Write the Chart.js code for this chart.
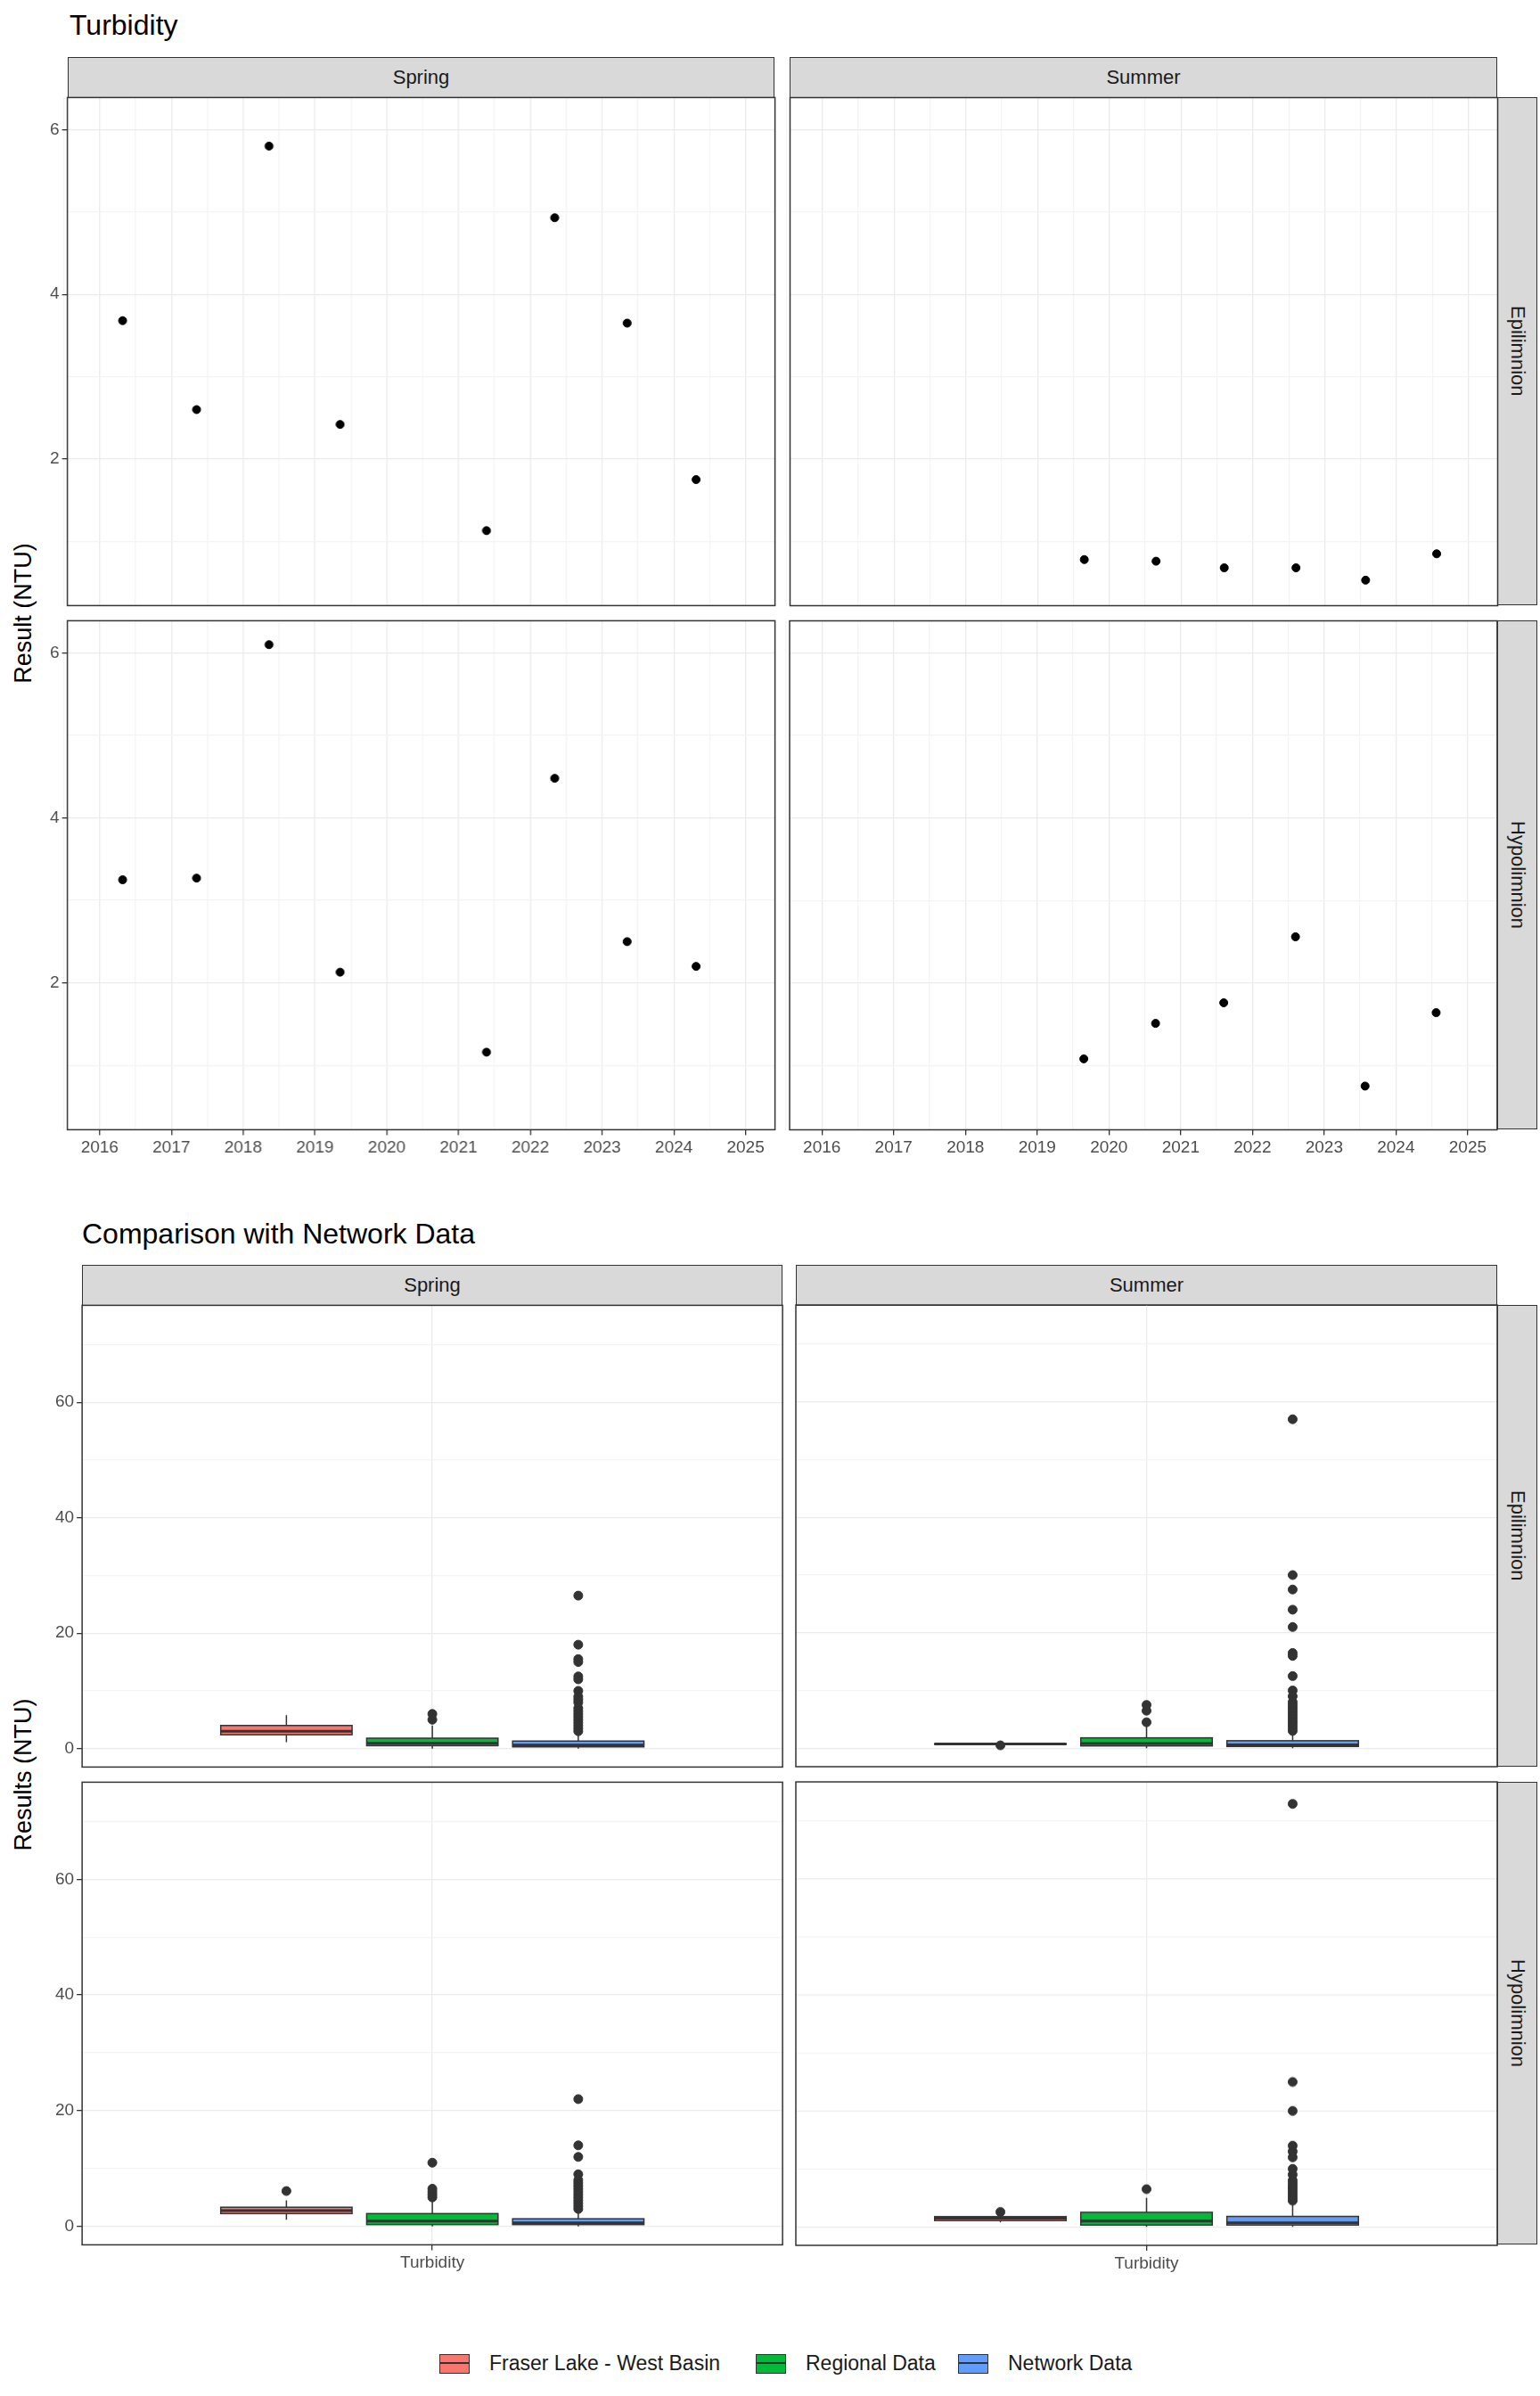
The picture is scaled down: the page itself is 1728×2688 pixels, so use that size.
<!DOCTYPE html>
<html><head><meta charset="utf-8">
<script src="https://cdn.jsdelivr.net/npm/chart.js@4.4.1/dist/chart.umd.min.js"></script>
<style>
body{margin:0;background:#fff;font-family:"Liberation Sans",Arial,sans-serif;}
#page{position:relative;width:1728px;height:2688px;}
.abs{position:absolute;}
.strip{position:absolute;background:#d9d9d9;border:1.5px solid #333;box-sizing:border-box;color:#1a1a1a;font-size:22px;display:flex;align-items:center;justify-content:center;}
.title{position:absolute;font-size:32px;color:#000;}
.ytitle{position:absolute;font-size:27px;color:#000;transform:translate(-50%,-50%) rotate(-90deg);white-space:nowrap;}
.leg{position:absolute;top:2638px;font-size:23px;color:#1a1a1a;display:flex;align-items:center;}
.key{width:34px;height:22px;border:1.5px solid #333;margin-right:22px;position:relative;box-sizing:border-box;}
.key:after{content:"";position:absolute;left:0;right:0;top:8px;border-top:2.5px solid #333;}
</style></head><body><div id="page"></div>
<script>
// ---- top: turbidity by year ----
const yearTicks = [2016, 2017, 2018, 2019, 2020, 2021, 2022, 2023, 2024, 2025];
const springEpiX = [2016.32, 2017.35, 2018.36, 2019.35, 2021.39, 2022.34, 2023.35, 2024.31];
const springEpiY = [3.68, 2.6, 5.8, 2.42, 1.13, 4.93, 3.65, 1.75];
const summerEpiX = [2019.65, 2020.65, 2021.6, 2022.6, 2023.57, 2024.56];
const summerEpiY = [0.78, 0.76, 0.68, 0.68, 0.53, 0.85];
const springHypoX = [2016.32, 2017.35, 2018.36, 2019.35, 2021.39, 2022.34, 2023.35, 2024.31];
const springHypoY = [3.25, 3.27, 6.1, 2.13, 1.16, 4.48, 2.5, 2.2];
const summerHypoX = [2019.65, 2020.65, 2021.6, 2022.6, 2023.57, 2024.56];
const summerHypoY = [1.08, 1.51, 1.76, 2.56, 0.75, 1.64];

// ---- bottom: comparison boxplots [lower whisker, q1, median, q3, upper whisker] ----
const groups = ['Fraser Lake - West Basin', 'Regional Data', 'Network Data'];
const groupColors = ['#F8766D', '#00BA38', '#619CFF'];
const groupX = [0.75, 1, 1.25];
const springEpiBox = [[1.1, 2.4, 3.0, 4.0, 5.8], [0, 0.5, 0.9, 1.8, 4.0], [0, 0.3, 0.6, 1.3, 2.8]];
const springEpiOut = [[], [5, 6], [26.5, 18, 15.5, 15, 12.5, 12, 10, 9, 8.5, 8, 7, 6.5, 6, 5.5, 5, 4.5, 4, 3.5, 3]];
const summerEpiBox = [[0.53, 0.68, 0.72, 0.78, 0.85], [0, 0.4, 0.8, 1.8, 3.8], [0, 0.3, 0.6, 1.3, 2.8]];
const summerEpiOut = [[0.5], [4.5, 6.5, 7.5], [57, 30, 27.5, 24, 21, 16.5, 16, 12.5, 10, 9, 8, 7.5, 7, 6.5, 6, 5.5, 5, 4.5, 4, 3.5, 3]];
const springHypoBox = [[1.15, 2.2, 2.7, 3.3, 4.5], [0, 0.3, 0.9, 2.2, 4.8], [0, 0.3, 0.6, 1.3, 2.8]];
const springHypoOut = [[6.1], [5, 5.5, 6, 6.5, 11], [22, 14, 12, 9, 8, 7.5, 7, 6.5, 6, 5.5, 5, 4.5, 4, 3.5, 3]];
const summerHypoBox = [[0.75, 1.08, 1.5, 1.76, 2.2], [0, 0.3, 1.0, 2.5, 5.0], [0, 0.3, 0.7, 1.8, 4.0]];
const summerHypoOut = [[2.56], [6.5], [73, 25, 20, 14, 13, 12, 10, 9, 8, 7.5, 7, 6.5, 6, 5.5, 5, 4.5]];

const page = document.getElementById('page');
const tickFont = {family: '"Liberation Sans", Arial, sans-serif', size: 19};

function el(cls, css, text) {
  const d = document.createElement('div');
  d.className = cls;
  Object.assign(d.style, css);
  if (text) d.textContent = text;
  page.appendChild(d);
  return d;
}

const frame = {
  id: 'frame',
  afterDraw(chart) {
    const a = chart.chartArea, c = chart.ctx;
    c.save(); c.strokeStyle = '#333'; c.lineWidth = 1.5;
    c.strokeRect(a.left, a.top, a.right - a.left, a.bottom - a.top);
    c.restore();
  }
};

const boxes = {
  id: 'boxes',
  beforeDatasetsDraw(chart, args, opts) {
    if (!opts.stats) return;
    const x = chart.scales.x, y = chart.scales.y, c = chart.ctx;
    const hw = Math.abs(x.getPixelForValue(0.1125) - x.getPixelForValue(0));
    c.save(); c.strokeStyle = '#333';
    opts.stats.forEach((s, i) => {
      const cx = x.getPixelForValue(groupX[i]);
      const p = s.map(v => y.getPixelForValue(v));
      c.lineWidth = 1.5;
      c.beginPath();
      c.moveTo(cx, p[0]); c.lineTo(cx, p[1]);
      c.moveTo(cx, p[3]); c.lineTo(cx, p[4]);
      c.stroke();
      c.fillStyle = groupColors[i];
      c.fillRect(cx - hw, p[3], 2 * hw, p[1] - p[3]);
      c.strokeRect(cx - hw, p[3], 2 * hw, p[1] - p[3]);
      c.lineWidth = 3;
      c.beginPath(); c.moveTo(cx - hw, p[2]); c.lineTo(cx + hw, p[2]); c.stroke();
    });
    c.restore();
  }
};

// panel: target chart-area rectangle in page pixels
function panel(r, cfg) {
  const box = el('abs', {left: r.l + 'px', top: r.t + 'px', width: r.w + 'px', height: r.h + 'px'});
  const cv = document.createElement('canvas');
  box.appendChild(cv);
  const ch = new Chart(cv, {
    type: 'scatter',
    data: {datasets: cfg.datasets},
    options: {
      responsive: true, maintainAspectRatio: false, animation: false,
      layout: {padding: 0},
      plugins: {legend: {display: false}, tooltip: {enabled: false}, boxes: {stats: cfg.stats}},
      scales: {
        x: {
          type: 'linear', min: cfg.xmin, max: cfg.xmax,
          afterBuildTicks: s => { s.ticks = cfg.xticks.map(v => ({value: v})); },
          ticks: {display: cfg.showX, font: tickFont, color: '#4d4d4d', autoSkip: false, maxRotation: 0,
                  callback: cfg.xlabel},
          grid: {color: cfg.xgrid, lineWidth: 1.3, tickLength: cfg.showX ? 6 : 0,
                 tickColor: ctx => cfg.xmajor(ctx.tick && ctx.tick.value) ? '#333' : 'rgba(0,0,0,0)'},
          border: {display: false}
        },
        y: {
          min: cfg.ymin, max: cfg.ymax,
          afterBuildTicks: s => { s.ticks = cfg.yticks.map(v => ({value: v})); },
          ticks: {display: cfg.showY, font: tickFont, color: '#4d4d4d', autoSkip: false,
                  callback: v => cfg.ymajor(v) ? v : ''},
          grid: {color: ctx => cfg.ymajor(ctx.tick && ctx.tick.value) ? '#ebebeb' : '#f4f4f4', lineWidth: 1.3,
                 tickLength: cfg.showY ? 6 : 0,
                 tickColor: ctx => cfg.ymajor(ctx.tick && ctx.tick.value) ? '#333' : 'rgba(0,0,0,0)'},
          border: {display: false}
        }
      }
    },
    plugins: [boxes, frame]
  });
  // align chart area with the target rectangle
  const a = ch.chartArea;
  const dl = a.left, dt = a.top, dr = ch.width - a.right, db = ch.height - a.bottom;
  Object.assign(box.style, {left: (r.l - dl) + 'px', top: (r.t - dt) + 'px',
    width: (r.w + dl + dr) + 'px', height: (r.h + dt + db) + 'px'});
  ch.resize();
}

function pts(xs, ys) { return xs.map((v, i) => ({x: v, y: ys[i]})); }

// ---------- top section ----------
el('title', {left: '78px', top: '10px'}, 'Turbidity');
el('ytitle', {left: '26px', top: '688px'}, 'Result (NTU)');
const topCols = [{l: 76, w: 793, name: 'Spring'}, {l: 886, w: 794, name: 'Summer'}];
const topRows = [{t: 109, h: 570, name: 'Epilimnion'}, {t: 696, h: 571, name: 'Hypolimnion'}];
const topData = [[pts(springEpiX, springEpiY), pts(summerEpiX, summerEpiY)],
                 [pts(springHypoX, springHypoY), pts(summerHypoX, summerHypoY)]];
const yearGrid = [];
for (let v = 2015.5; v <= 2025.4; v += 0.5) yearGrid.push(v);
topCols.forEach(c => el('strip', {left: c.l + 'px', top: '64px', width: c.w + 'px', height: '46px'}, c.name));
topRows.forEach((rw, ri) => {
  el('strip', {left: '1680px', top: rw.t + 'px', width: '45px', height: rw.h + 'px', writingMode: 'vertical-rl'}, rw.name);
  topCols.forEach((c, ci) => {
    panel({l: c.l, t: rw.t, w: c.w, h: rw.h}, {
      datasets: [{data: topData[ri][ci], backgroundColor: '#000', borderColor: '#000', pointRadius: 4.5}],
      xmin: ci === 0 ? 2015.55 : 2015.55, xmax: 2025.41, xticks: yearGrid,
      xmajor: v => Number.isInteger(v) && yearTicks.includes(v),
      xlabel: v => Number.isInteger(v) ? v : '',
      xgrid: ctx => Number.isInteger(ctx.tick && ctx.tick.value) ? '#ebebeb' : '#f4f4f4',
      showX: ri === 1, showY: ci === 0,
      ymin: 0.22, ymax: 6.39, yticks: [1, 2, 3, 4, 5, 6], ymajor: v => v % 2 === 0
    });
  });
});

// ---------- bottom section ----------
el('title', {left: '92px', top: '1366px'}, 'Comparison with Network Data');
el('ytitle', {left: '26px', top: '1991px'}, 'Results (NTU)');
const botCols = [{l: 92, w: 786, name: 'Spring'}, {l: 893, w: 787, name: 'Summer'}];
const botRows = [{t: 1464, h: 518, name: 'Epilimnion'}, {t: 1999, h: 519, name: 'Hypolimnion'}];
const botStats = [[springEpiBox, summerEpiBox], [springHypoBox, summerHypoBox]];
const botOut = [[springEpiOut, summerEpiOut], [springHypoOut, summerHypoOut]];
botCols.forEach(c => el('strip', {left: c.l + 'px', top: '1419px', width: c.w + 'px', height: '46px'}, c.name));
botRows.forEach((rw, ri) => {
  el('strip', {left: '1680px', top: rw.t + 'px', width: '45px', height: rw.h + 'px', writingMode: 'vertical-rl'}, rw.name);
  botCols.forEach((c, ci) => {
    const outs = botOut[ri][ci];
    panel({l: c.l, t: rw.t, w: c.w, h: rw.h}, {
      datasets: outs.map((o, gi) => ({data: o.map(v => ({x: groupX[gi], y: v})),
        backgroundColor: '#333', borderColor: '#333', pointRadius: 5})),
      stats: botStats[ri][ci],
      xmin: 0.4, xmax: 1.6, xticks: [1], xmajor: v => v === 1,
      xlabel: v => v === 1 ? 'Turbidity' : '', xgrid: '#ebebeb',
      showX: ri === 1, showY: ci === 0,
      ymin: -3.2, ymax: 76.8, yticks: [0, 10, 20, 30, 40, 50, 60, 70], ymajor: v => v % 20 === 0
    });
  });
});

// legend
const legLeft = [493, 848, 1075];
groups.forEach((g, i) => {
  const d = el('leg', {left: legLeft[i] + 'px'});
  const k = document.createElement('div');
  k.className = 'key'; k.style.background = groupColors[i];
  d.appendChild(k);
  d.appendChild(document.createTextNode(g));
});
</script></body></html>
